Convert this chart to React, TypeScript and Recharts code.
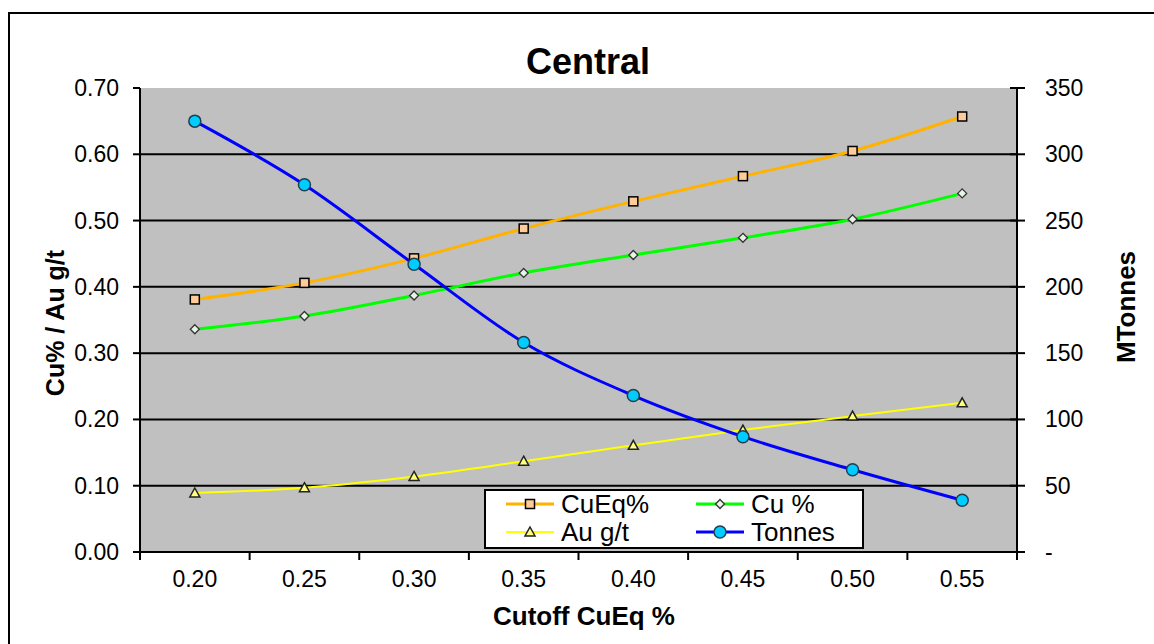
import React from 'react';
import { ComposedChart, Line, XAxis, YAxis, CartesianGrid } from 'recharts';

// ---- data ----
const categories = ['0.20', '0.25', '0.30', '0.35', '0.40', '0.45', '0.50', '0.55'];
const cuEqValues = [0.381, 0.406, 0.443, 0.488, 0.529, 0.567, 0.605, 0.657];
const cuValues = [0.336, 0.356, 0.387, 0.421, 0.448, 0.474, 0.502, 0.541];
const auValues = [0.089, 0.097, 0.114, 0.137, 0.161, 0.184, 0.205, 0.225];
const tonnesValues = [325, 277, 217, 158, 118, 87, 62, 39];
const leftTicks = [0, 0.1, 0.2, 0.3, 0.4, 0.5, 0.6, 0.7];
const rightTicks = [0, 50, 100, 150, 200, 250, 300, 350];
const gridValues = [0.1, 0.2, 0.3, 0.4, 0.5, 0.6];
const seriesNames = ['CuEq%', 'Cu %', 'Au g/t', 'Tonnes'];
const titleText = 'Central';
const xTitle = 'Cutoff CuEq %';
const yLeftTitle = 'Cu% / Au g/t';
const yRightTitle = 'MTonnes';

const data = categories.map((c, i) => ({
  cat: c,
  cuEq: cuEqValues[i],
  cu: cuValues[i],
  au: auValues[i],
  tonnes: tonnesValues[i],
}));

// ---- layout / style ----
const W = 1154;
const H = 644;
const PLOT_TOP = 88;
const PLOT_LEFT = 140;
const PLOT_RIGHT = 1017;
const PLOT_BOTTOM = 552;
const FONT = '"Liberation Sans", Arial, sans-serif';
const TEXT = '#000';

const SquareDot = (p: any) =>
  p.cx == null ? <g /> : (
    <rect x={p.cx - 4.5} y={p.cy - 4.5} width={9} height={9} fill="#FFCC99" stroke="#000" strokeWidth={1.5} />
  );
const DiamondDot = (p: any) =>
  p.cx == null ? <g /> : (
    <polygon
      points={`${p.cx},${p.cy - 4.5} ${p.cx + 4.5},${p.cy} ${p.cx},${p.cy + 4.5} ${p.cx - 4.5},${p.cy}`}
      fill="#E6F5E6"
      stroke="#333"
      strokeWidth={1.3}
    />
  );
const TriangleDot = (p: any) =>
  p.cx == null ? <g /> : (
    <polygon
      points={`${p.cx},${p.cy - 5} ${p.cx + 5},${p.cy + 4} ${p.cx - 5},${p.cy + 4}`}
      fill="#FFFF80"
      stroke="#222"
      strokeWidth={1.5}
    />
  );
const CircleDot = (p: any) =>
  p.cx == null ? <g /> : <circle cx={p.cx} cy={p.cy} r={6} fill="#00CCFF" stroke="#1F3F4F" strokeWidth={1.5} />;

const series = [
  { key: 'cuEq', name: seriesNames[0], color: '#FFB300', width: 3, axis: 'left', Dot: SquareDot },
  { key: 'cu', name: seriesNames[1], color: '#00FF00', width: 3, axis: 'left', Dot: DiamondDot },
  { key: 'au', name: seriesNames[2], color: '#FFFF00', width: 2, axis: 'left', Dot: TriangleDot },
  { key: 'tonnes', name: seriesNames[3], color: '#0000FF', width: 3, axis: 'right', Dot: CircleDot },
];

const XTick = (props: any) => {
  const { x, payload, index, width, visibleTicksCount } = props;
  const bw = width / visibleTicksCount;
  const left = x - bw / 2;
  const right = x + bw / 2;
  return (
    <g>
      <line x1={left} x2={left} y1={PLOT_BOTTOM} y2={PLOT_BOTTOM + 8} stroke="#000" strokeWidth={2} />
      {index === visibleTicksCount - 1 && (
        <line x1={right} x2={right} y1={PLOT_BOTTOM} y2={PLOT_BOTTOM + 8} stroke="#000" strokeWidth={2} />
      )}
      <text x={x} y={PLOT_BOTTOM + 35} textAnchor="middle" fontSize={23} fontFamily={FONT} fill={TEXT}>
        {payload.value}
      </text>
    </g>
  );
};

const LeftTick = (props: any) => {
  const { y, payload } = props;
  return (
    <text x={PLOT_LEFT - 21} y={y} dy={8} textAnchor="end" fontSize={23} fontFamily={FONT} fill={TEXT}>
      {Number(payload.value).toFixed(2)}
    </text>
  );
};

const RightTick = (props: any) => {
  const { y, payload } = props;
  return (
    <g>
      <line x1={PLOT_RIGHT - 7} x2={PLOT_RIGHT} y1={y} y2={y} stroke="#000" strokeWidth={2} />
      <text x={PLOT_RIGHT + 28} y={y} dy={8} textAnchor="start" fontSize={23} fontFamily={FONT} fill={TEXT}>
        {payload.value === 0 ? '-' : String(payload.value)}
      </text>
    </g>
  );
};

const LegendBox = () => (
  <div
    style={{
      position: 'absolute',
      left: 484,
      top: 489,
      width: 380,
      height: 60,
      boxSizing: 'border-box',
      border: '2px solid #000',
      background: '#fff',
    }}
  >
    {series.map((s, i) => {
      const row = Math.floor(i / 2);
      const col = i % 2;
      const Dot = s.Dot;
      return (
        <div
          key={s.key}
          style={{
            position: 'absolute',
            left: col === 0 ? 20 : 210,
            top: row === 0 ? -1 : 27,
            height: 28,
            display: 'flex',
            alignItems: 'center',
            whiteSpace: 'nowrap',
          }}
        >
          <svg width={50} height={28} style={{ display: 'block' }}>
            <line x1={0} x2={48} y1={14} y2={14} stroke={s.color} strokeWidth={s.width} />
            <Dot cx={24} cy={14} />
          </svg>
          <span style={{ fontFamily: FONT, fontSize: 26, color: TEXT, marginLeft: 5, lineHeight: '28px' }}>{s.name}</span>
        </div>
      );
    })}
  </div>
);

export default function App() {
  return (
    <div style={{ position: 'absolute', left: 0, top: 0, width: W, height: H, overflow: 'hidden', background: '#fff' }}>
      <div
        style={{
          position: 'absolute',
          left: 8,
          top: 12,
          width: 1300,
          height: 800,
          border: '2px solid #000',
        }}
      />
      <div style={{ position: 'absolute', left: 0, top: 0 }}>
        <ComposedChart
          width={W}
          height={H}
          data={data}
          margin={{ top: PLOT_TOP, right: 0, bottom: 0, left: 0 }}
        >
          <CartesianGrid
            yAxisId="left"
            vertical={false}
            horizontalValues={gridValues}
            stroke="#000"
            strokeWidth={2}
            fill="#C0C0C0"
            fillOpacity={1}
          />
          <XAxis
            dataKey="cat"
            type="category"
            scale="band"
            height={H - PLOT_BOTTOM}
            axisLine={{ stroke: '#000', strokeWidth: 2 }}
            tickLine={false}
            tick={<XTick />}
            interval={0}
          />
          <YAxis
            yAxisId="left"
            orientation="left"
            width={PLOT_LEFT}
            domain={[0, 0.7]}
            ticks={leftTicks}
            interval={0}
            axisLine={{ stroke: '#000', strokeWidth: 2 }}
            tickLine={{ stroke: '#000', strokeWidth: 2 }}
            tickSize={7}
            tick={<LeftTick />}
          />
          <YAxis
            yAxisId="right"
            orientation="right"
            width={W - PLOT_RIGHT}
            domain={[0, 350]}
            ticks={rightTicks}
            interval={0}
            axisLine={{ stroke: '#000', strokeWidth: 2 }}
            tickLine={{ stroke: '#000', strokeWidth: 2 }}
            tickSize={8}
            tick={<RightTick />}
          />
          {series.map((s) => (
            <Line
              key={s.key}
              yAxisId={s.axis}
              dataKey={s.key}
              name={s.name}
              type="monotone"
              stroke={s.color}
              strokeWidth={s.width}
              dot={(p: any) => <s.Dot key={`${s.key}-${p.index}`} {...p} />}
              activeDot={false}
              isAnimationActive={false}
            />
          ))}
        </ComposedChart>
      </div>
      <svg width={W} height={H} style={{ position: 'absolute', left: 0, top: 0, pointerEvents: 'none' }}>
        <text x={588} y={74} textAnchor="middle" fontSize={36} fontWeight="bold" fontFamily={FONT} fill={TEXT}>
          {titleText}
        </text>
        <text x={584} y={625} textAnchor="middle" fontSize={26} fontWeight="bold" fontFamily={FONT} fill={TEXT}>
          {xTitle}
        </text>
        <text
          transform="translate(64,323) rotate(-90)"
          textAnchor="middle"
          fontSize={25}
          fontWeight="bold"
          fontFamily={FONT}
          fill={TEXT}
        >
          {yLeftTitle}
        </text>
        <text
          transform="translate(1135,307) rotate(-90)"
          textAnchor="middle"
          fontSize={26}
          fontWeight="bold"
          fontFamily={FONT}
          fill={TEXT}
        >
          {yRightTitle}
        </text>
      </svg>
      <LegendBox />
    </div>
  );
}
